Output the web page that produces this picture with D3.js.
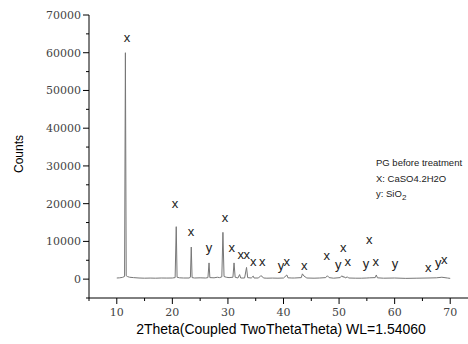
<!DOCTYPE html>
<html>
<head>
<meta charset="utf-8">
<script src="https://cdn.jsdelivr.net/npm/d3@7"></script>
<style>
  body { margin: 0; background: #fff; }
  svg { display: block; }
</style>
</head>
<body>
<svg id="chart"></svg>
<script>
// XRD pattern
const twoTheta = [10.0, 10.5, 11.0, 11.4, 11.55, 11.7, 11.9, 12.3, 13, 14, 15, 16, 17, 18, 19, 20, 20.5, 20.7, 20.85, 21.3,
    22, 23.0, 23.25, 23.4, 23.55, 24, 25, 26, 26.4, 26.6, 26.75, 27.5, 28.1, 28.5, 28.9, 29.1, 29.3, 29.7, 30.2, 30.9,
    31.1, 31.3, 31.8, 32.1, 32.3, 33.0, 33.35, 33.55, 34.2, 34.55, 34.7, 35.5, 35.9, 36.1, 36.4, 37, 38, 39, 40, 40.6,
    40.8, 41.5, 42, 43.2, 43.4, 43.7, 44.2, 45.5, 46.5, 47.6, 47.9, 48.2, 49, 50.2, 50.5, 50.7, 50.9, 51.1, 51.5, 51.7,
    53, 54, 55.0, 55.5, 56.5, 56.7, 56.9, 58, 60, 62, 64, 66, 67.5, 68.5, 69.5, 70];
const counts = [300, 350, 450, 700, 60000, 900, 700, 500, 400, 300, 250, 280, 250, 300, 280, 300, 400, 13900, 500, 350,
    300, 300, 500, 8500, 400, 300, 350, 300, 400, 4300, 400, 350, 500, 400, 600, 12400, 700, 500, 400, 500,
    4300, 500, 300, 1200, 300, 300, 3100, 400, 300, 800, 300, 300, 900, 800, 300, 250, 280, 250, 300, 1100,
    350, 300, 300, 400, 1400, 800, 300, 250, 300, 400, 900, 400, 250, 400, 900, 500, 700, 300, 600, 300,
    250, 250, 300, 350, 400, 1100, 350, 250, 300, 200, 250, 300, 350, 500, 300, 200];

// phase marks (x = CaSO4.2H2O, y = SiO2)
const markText = ["x", "x", "x", "y", "x", "x", "x", "x", "x", "x", "y", "x", "x", "x", "y", "x", "x", "x", "y", "x", "y", "x", "y", "x"];
const markTheta = [11.84, 20.48, 23.36, 26.6, 29.47, 30.7, 32.3, 33.38, 34.57, 36.19, 39.55, 40.58, 43.74, 47.77, 49.86, 50.76,
    51.55, 55.44, 54.85, 56.59, 60.07, 66.06, 67.86, 68.94];
const markCounts = [63900, 19900, 12500, 8250, 16200, 8250, 6400, 6400, 4620, 4620, 3480, 4540, 3480, 6130, 3745, 8250,
    4540, 10370, 4010, 4540, 4010, 2950, 4275, 5070];

const xTicks = [10, 20, 30, 40, 50, 60, 70];
const yTicks = [0, 10000, 20000, 30000, 40000, 50000, 60000, 70000];

const W = 468, H = 344;
const svg = d3.select("#chart").attr("width", W).attr("height", H);

const x = d3.scaleLinear().domain([5, 75]).range([89, 478]);
const y = d3.scaleLinear().domain([-5000, 70000]).range([298, 15]);

// axes
const xAxis = svg.append("g").attr("transform", `translate(0,${y(-5000)})`);
xAxis.append("line").attr("x1", x(5)).attr("x2", W).attr("stroke", "#000");
xAxis.selectAll(".minor").data(d3.range(5, 76, 10)).join("line")
    .attr("x1", d => x(d)).attr("x2", d => x(d)).attr("y2", 3).attr("stroke", "#000");
xAxis.selectAll(".major").data(xTicks).join("line")
    .attr("x1", d => x(d)).attr("x2", d => x(d)).attr("y2", 6).attr("stroke", "#000");
xAxis.selectAll("text").data(xTicks).join("text")
    .attr("x", d => x(d)).attr("y", 18)
    .attr("text-anchor", "middle")
    .style("font", "11px 'DejaVu Serif'").attr("fill", "#444")
    .text(d => d);

const yAxis = svg.append("g").attr("transform", `translate(${x(5)},0)`);
yAxis.append("line").attr("y1", y(-5000)).attr("y2", y(70000)).attr("stroke", "#000");
yAxis.selectAll(".minor").data(d3.range(-5000, 70000, 10000)).join("line")
    .attr("y1", d => y(d)).attr("y2", d => y(d)).attr("x2", -3).attr("stroke", "#000");
yAxis.selectAll(".major").data(yTicks).join("line")
    .attr("y1", d => y(d)).attr("y2", d => y(d)).attr("x2", -6).attr("stroke", "#000");
yAxis.selectAll("text").data(yTicks).join("text")
    .attr("x", -8).attr("y", d => y(d)).attr("dy", "0.35em")
    .attr("text-anchor", "end")
    .style("font", "11px 'DejaVu Serif'").attr("fill", "#444")
    .text(d => d);

// pattern
const line = d3.line().x((d, i) => x(twoTheta[i])).y(d => y(d));
svg.append("path")
    .datum(counts)
    .attr("fill", "none")
    .attr("stroke", "#777")
    .attr("stroke-width", 1)
    .attr("d", line);

// phase marks
svg.selectAll(".mark").data(markText).join("text")
    .attr("x", (d, i) => x(markTheta[i]))
    .attr("y", (d, i) => y(markCounts[i]))
    .attr("dy", "0.3em")
    .attr("text-anchor", "middle")
    .style("font", "13px 'Liberation Sans'")
    .attr("fill", "#222")
    .text(d => d);

// legend
const leg = svg.append("g").style("font", "9.5px 'Liberation Sans'").attr("fill", "#222");
leg.append("text").attr("x", 376).attr("y", 166).text("PG before treatment");
leg.append("text").attr("x", 376).attr("y", 182).text("X: CaSO4.2H2O");
const si = leg.append("text").attr("x", 376).attr("y", 197);
si.append("tspan").text("y: SiO");
si.append("tspan").attr("dy", 3).style("font-size", "8px").text("2");

// axis titles
svg.append("text")
    .attr("x", 281).attr("y", 334)
    .attr("text-anchor", "middle")
    .style("font", "14px 'Liberation Sans'")
    .text("2Theta(Coupled TwoThetaTheta) WL=1.54060");

svg.append("text")
    .attr("transform", "translate(23,154) rotate(-90)")
    .attr("text-anchor", "middle")
    .style("font", "12px 'Liberation Sans'")
    .text("Counts");
</script>
</body>
</html>
